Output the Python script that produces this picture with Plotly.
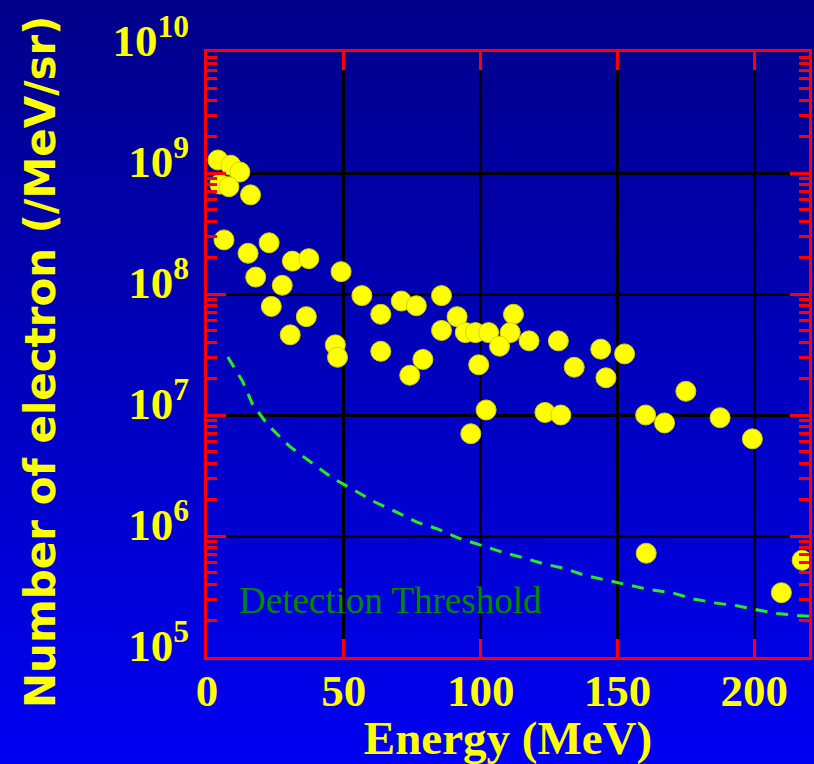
import plotly.graph_objects as go

# ---- data ----
energy = [4.0, 8.7, 12.0, 4.7, 8.0, 15.9, 6.2, 15.0, 22.7, 17.8,
          31.2, 37.2, 27.5, 23.5, 36.3, 30.4, 49.0, 46.9, 47.7, 56.6,
          63.5, 63.5, 71.0, 76.5, 78.9, 74.1, 85.7, 85.7, 91.4, 94.4,
          98.1, 102.9, 99.3, 102.0, 96.4, 112.0, 110.8, 106.9, 117.7, 128.4,
          134.2, 123.5, 129.3, 143.9, 152.6, 145.8, 175.0, 160.3, 167.2, 187.5,
          199.3, 160.5, 209.9, 217.5]
electrons = [1.28e9, 1.16e9, 1.02e9, 8.1e8, 7.7e8, 6.6e8, 2.8e8, 2.17e8, 2.65e8, 1.38e8,
             1.87e8, 1.96e8, 1.18e8, 7.9e7, 6.5e7, 4.6e7, 1.53e8, 3.8e7, 3.0e7, 9.7e7,
             6.8e7, 3.36e7, 8.75e7, 8.0e7, 2.88e7, 2.13e7, 9.7e7, 5.0e7, 6.5e7, 4.8e7,
             4.8e7, 4.8e7, 2.6e7, 1.1e7, 7.0e6, 6.8e7, 4.8e7, 3.7e7, 4.1e7, 4.1e7,
             2.48e7, 1.05e7, 1.0e7, 3.5e7, 3.2e7, 2.03e7, 1.57e7, 1.0e7, 8.6e6, 9.5e6,
             6.35e6, 7.2e5, 3.4e5, 6.3e5]

thr_energy = [7.6, 13.1, 16.7, 22.2, 30.2, 38.2, 45.5, 53.8, 61.5, 68.7,
              76.7, 84.4, 92.0, 100.0, 107.6, 115.6, 122.9, 130.5, 138.5, 146.2,
              154.2, 161.8, 169.8, 177.5, 185.5, 193.1, 200.4, 208.0, 216.0, 220.0]
thr_values = [3.01e7, 1.88e7, 1.22e7, 8.3e6, 5.5e6, 4.06e6, 3.05e6, 2.39e6, 1.9e6, 1.6e6,
              1.30e6, 1.14e6, 9.6e5, 8.4e5, 7.4e5, 6.6e5, 5.9e5, 5.4e5, 4.7e5, 4.3e5,
              3.95e5, 3.6e5, 3.4e5, 3.03e5, 2.8e5, 2.66e5, 2.47e5, 2.29e5, 2.2e5, 2.17e5]

x_tickvals = [0, 50, 100, 150, 200]
x_ticktext = ["0", "50", "100", "150", "200"]
y_tickvals = [1e5, 1e6, 1e7, 1e8, 1e9, 1e10]
y_ticktext = ["10<sup>5</sup>", "10<sup>6</sup>", "10<sup>7</sup>",
              "10<sup>8</sup>", "10<sup>9</sup>", "10<sup>10</sup>"]

threshold_label = "Detection Threshold"

# ---- figure ----
W, H = 814, 764
L, R, T, B = 207, 2, 52, 107
plot_h = H - T - B

fig = go.Figure()

fig.add_trace(go.Scatter(
    x=thr_energy, y=thr_values, mode="lines",
    line=dict(color="#22ee22", width=3, dash="12px,9px"),
    hoverinfo="skip", showlegend=False))

fig.add_trace(go.Scatter(
    x=energy, y=electrons, mode="markers",
    marker=dict(color="#ffff00", size=20, line=dict(color="#d4d400", width=1)),
    showlegend=False))

# empty trace so that the mirrored right-hand axis (with minor ticks) is drawn
fig.add_trace(go.Scatter(x=[], y=[], yaxis="y2", showlegend=False, hoverinfo="skip"))

# vertical blue gradient background drawn as thin bands
shapes = []
N = 120
for i in range(N):
    p0 = i * H / N
    p1 = (i + 1) * H / N + 0.6
    pm = (p0 + p1) / 2
    b = int(round(138 + (242 - 138) * pm / H))
    shapes.append(dict(
        type="rect", xref="paper", yref="paper", layer="below",
        x0=-0.5, x1=1.2,
        y0=(H - B - p1) / plot_h, y1=(H - B - p0) / plot_h,
        line=dict(width=0), fillcolor=f"rgb(0,0,{b})"))

fig.add_annotation(
    x=10.9, y=5.467, xref="x", yref="y", text=threshold_label,
    showarrow=False, xanchor="left", yanchor="middle",
    font=dict(family="Liberation Serif, Times New Roman, serif", size=37, color="#008a00"))

tickfont = dict(family="Liberation Serif, Times New Roman, serif", size=45,
                color="#ffff00", weight="bold")

fig.update_xaxes(
    range=[0, 220], tickmode="array", tickvals=x_tickvals, ticktext=x_ticktext,
    showgrid=True, gridcolor="black", gridwidth=2.5, zeroline=False,
    showline=True, linecolor="red", linewidth=3, mirror="ticks",
    ticks="inside", ticklen=18, tickwidth=2.5, tickcolor="red",
    tickfont=tickfont, ticklabelstandoff=-8,
    title=dict(text="Energy (MeV)", standoff=13,
               font=dict(family="Liberation Serif, Times New Roman, serif", size=47,
                         color="#ffff00", weight="bold")))

minor_ticks = dict(ticks="inside", ticklen=10, tickwidth=2.5, tickcolor="red",
                   dtick="D1", showgrid=False)

fig.update_layout(
    yaxis=dict(
        type="log", range=[5, 10], tickmode="array", tickvals=y_tickvals, ticktext=y_ticktext,
        showgrid=True, gridcolor="black", gridwidth=2.5, zeroline=False,
        showline=True, linecolor="red", linewidth=3, mirror=True,
        ticks="inside", ticklen=19, tickwidth=2.5, tickcolor="red",
        minor=minor_ticks,
        tickfont=tickfont, ticklabelstandoff=6, ticklabelshift=-12,
        title=dict(text="Number of electron (/MeV/sr)&nbsp;", standoff=44,
                   font=dict(family="Comic Sans MS, DejaVu Sans, sans-serif", size=42,
                             color="#ffff00", weight="bold"))),
    yaxis2=dict(
        type="log", range=[5, 10], overlaying="y", side="right", anchor="x",
        tickmode="array", tickvals=y_tickvals, showticklabels=False,
        showgrid=False, zeroline=False, showline=False,
        ticks="inside", ticklen=19, tickwidth=2.5, tickcolor="red",
        minor=minor_ticks),
)

fig.update_layout(
    width=W, height=H,
    margin=dict(l=L, r=R, t=T, b=B, pad=0),
    paper_bgcolor="rgb(0,0,190)", plot_bgcolor="rgba(0,0,0,0)",
    shapes=shapes, showlegend=False)

fig.write_html("out.html", config={"displayModeBar": False},
               post_script="document.body.style.margin='0';")
